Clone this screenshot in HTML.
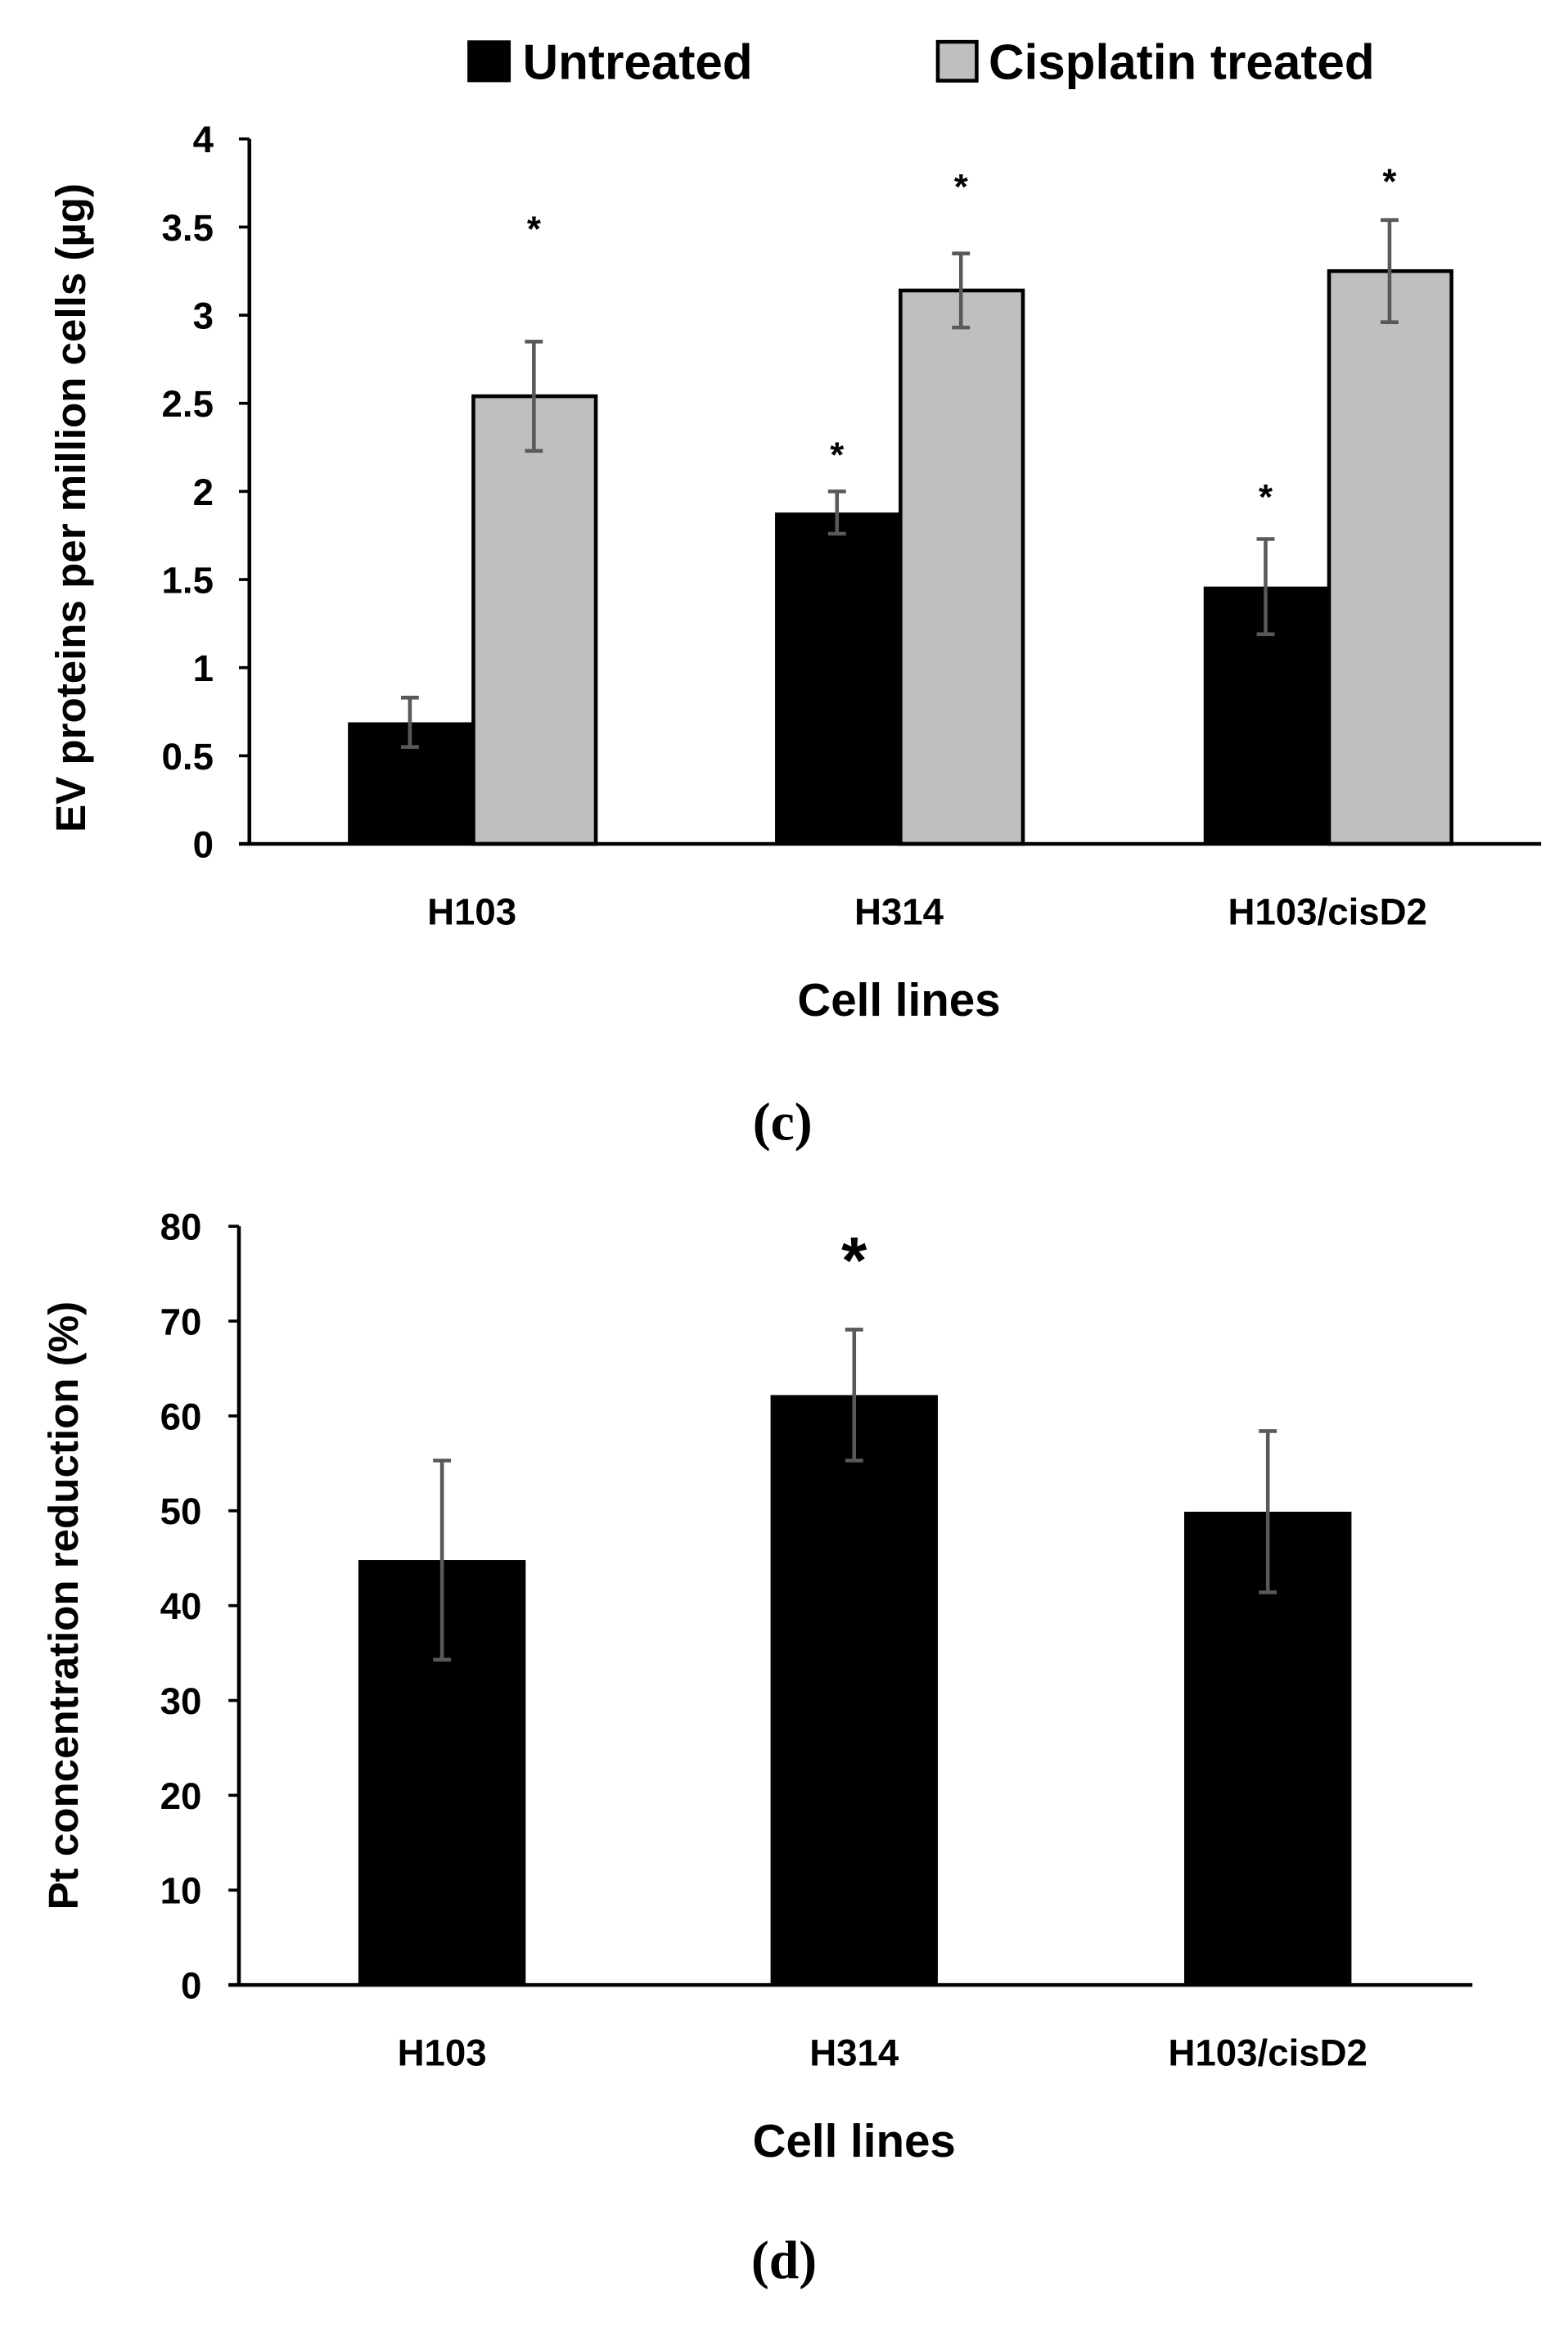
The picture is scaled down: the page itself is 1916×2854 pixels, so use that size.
<!DOCTYPE html>
<html><head><meta charset="utf-8"><style>
html,body{margin:0;padding:0;background:#fff;}
svg{display:block;}
text{font-family:"Liberation Sans",sans-serif;font-weight:bold;fill:#000;}
</style></head><body>
<svg id="fig" width="1916" height="2854" viewBox="0 0 1050 1564" xmlns="http://www.w3.org/2000/svg">
<g id="chartC"></g>
<g id="chartD"></g>
</svg>
<script>
const cats = ["H103","H314","H103/cisD2"];
const cUntreated = [0.69,1.88,1.46];
const cUntreatedErr = [0.14,0.12,0.27];
const cTreated = [2.54,3.14,3.25];
const cTreatedErr = [0.31,0.21,0.29];
const cUntreatedStar = [null,2.25,2.01];
const cTreatedStar = [3.53,3.77,3.8];
const cTicks = ["0","0.5","1","1.5","2","2.5","3","3.5","4"];
const dValues = [44.8,62.2,49.9];
const dErr = [10.5,6.9,8.5];
const dStar = [null,77.8,null];
const dTicks = ["0","10","20","30","40","50","60","70","80"];

const NS="http://www.w3.org/2000/svg";
function mk(parent,tag,attrs,txt){const e=document.createElementNS(NS,tag);for(const k in attrs)e.setAttribute(k,attrs[k]);if(txt!==undefined)e.textContent=txt;parent.appendChild(e);return e;}

// Chart C
(function(){
const g=document.getElementById('chartC');
const x0=167,x1=1032,y0=565,yTop=93,vmax=4;
const y=v=>y0-(v/vmax)*(y0-yTop);
const groupStart=[233,519,806], bw=83;
let e;
cTicks.forEach(t=>{const v=parseFloat(t);
 e=mk(g,'line',{x1:x0-7,x2:x0,y1:y(v),y2:y(v),stroke:'#000','stroke-width':2});
 
 e=mk(g,'text',{x:143,y:y(v)+9,'text-anchor':'end','font-size':25},t);
 });
cats.forEach((c,i)=>{
 const xs=groupStart[i];
 e=mk(g,'rect',{x:xs,y:y(cUntreated[i]),width:bw,height:y0-y(cUntreated[i]),fill:'#000'});
 
 e=mk(g,'rect',{x:xs+bw+1,y:y(cTreated[i]),width:bw-1,height:y0-y(cTreated[i]),fill:'#bfbfbf',stroke:'#000','stroke-width':2.5});
 
 [[xs+bw/2,cUntreated[i],cUntreatedErr[i],cUntreatedStar[i]],[xs+bw*1.5,cTreated[i],cTreatedErr[i],cTreatedStar[i]]].forEach(([cx,v,er,star])=>{
  const eg=mk(g,'g',{stroke:'#595959','stroke-width':2.5});
  
  mk(eg,'line',{x1:cx,x2:cx,y1:y(v+er),y2:y(v-er)});
  mk(eg,'line',{x1:cx-6,x2:cx+6,y1:y(v+er),y2:y(v+er)});
  mk(eg,'line',{x1:cx-6,x2:cx+6,y1:y(v-er),y2:y(v-er)});
  if(star!==null){e=mk(g,'text',{x:cx,y:y(star)+13,'text-anchor':'middle','font-size':24},'*');
   }
 });
 e=mk(g,'text',{x:xs+bw,y:619,'text-anchor':'middle','font-size':25},c);
 
});
e=mk(g,'line',{x1:x0,x2:x0,y1:yTop,y2:y0,stroke:'#000','stroke-width':2.5});

e=mk(g,'line',{x1:x0-7,x2:x1,y1:y0,y2:y0,stroke:'#000','stroke-width':2.5});

e=mk(g,'text',{x:602,y:680,'text-anchor':'middle','font-size':31},'Cell lines');

e=mk(g,'text',{x:0,y:0,'text-anchor':'middle','font-size':28,transform:'translate(57,340) rotate(-90)'},'EV proteins per million cells (µg)');

e=mk(g,'rect',{x:313,y:27,width:29,height:28,fill:'#000'});

e=mk(g,'text',{x:350,y:53,'font-size':33},'Untreated');

e=mk(g,'rect',{x:628,y:28,width:26,height:26,fill:'#bfbfbf',stroke:'#000','stroke-width':2.5});

e=mk(g,'text',{x:662,y:53,'font-size':33},'Cisplatin treated');

e=mk(g,'text',{x:524,y:763,'text-anchor':'middle','font-size':36,style:'font-family:"Liberation Serif",serif'},'(c)');

})();

// Chart D
(function(){
const g=document.getElementById('chartD');
const x0=160,x1=986,y0=1329,yTop=821,vmax=80;
const y=v=>y0-(v/vmax)*(y0-yTop);
const bStart=[240,516,793], bw=112;
let e;
dTicks.forEach(t=>{const v=parseFloat(t);
 e=mk(g,'line',{x1:x0-7,x2:x0,y1:y(v),y2:y(v),stroke:'#000','stroke-width':2});
 
 e=mk(g,'text',{x:135,y:y(v)+9,'text-anchor':'end','font-size':25},t);
 });
cats.forEach((c,i)=>{
 const xs=bStart[i],cx=xs+bw/2,v=dValues[i],er=dErr[i];
 e=mk(g,'rect',{x:xs,y:y(v),width:bw,height:y0-y(v),fill:'#000'});
 
 const eg=mk(g,'g',{stroke:'#595959','stroke-width':2.5});
 
 mk(eg,'line',{x1:cx,x2:cx,y1:y(v+er),y2:y(v-er)});
 mk(eg,'line',{x1:cx-6,x2:cx+6,y1:y(v+er),y2:y(v+er)});
 mk(eg,'line',{x1:cx-6,x2:cx+6,y1:y(v-er),y2:y(v-er)});
 if(dStar[i]!==null){e=mk(g,'text',{x:cx,y:y(dStar[i])+24,'text-anchor':'middle','font-size':44,fill:'#404040'},'*');
  }
 e=mk(g,'text',{x:cx,y:1383,'text-anchor':'middle','font-size':25},c);
 
});
e=mk(g,'line',{x1:x0,x2:x0,y1:yTop,y2:y0,stroke:'#000','stroke-width':2.5});

e=mk(g,'line',{x1:x0-7,x2:x1,y1:y0,y2:y0,stroke:'#000','stroke-width':2.5});

e=mk(g,'text',{x:572,y:1444,'text-anchor':'middle','font-size':31},'Cell lines');

e=mk(g,'text',{x:0,y:0,'text-anchor':'middle','font-size':28,transform:'translate(52,1075) rotate(-90)'},'Pt concentration reduction (%)');

e=mk(g,'text',{x:525,y:1525,'text-anchor':'middle','font-size':36,style:'font-family:"Liberation Serif",serif'},'(d)');

})();
</script>
</body></html>
